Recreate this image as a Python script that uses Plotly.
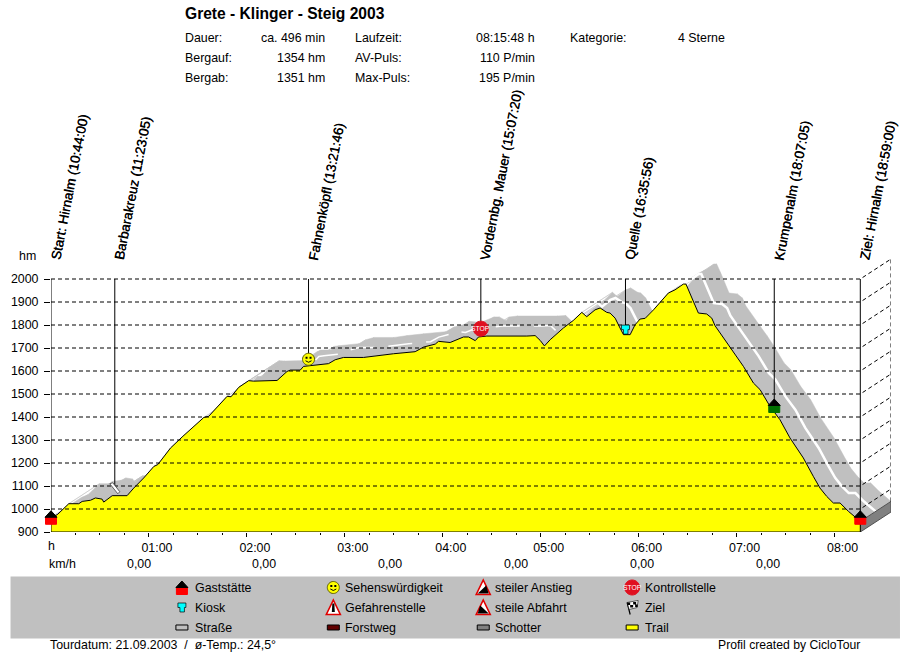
import numpy as np
import plotly.graph_objects as go

FONT = "Liberation Sans"

# elevation profile, minutes since start / hoehenmeter
prof_min = [0, 3.8, 10.9, 17, 19.1, 24.2, 27.2, 31.3, 32.3, 35.4, 37.5, 46.6, 50.7, 56.8, 63, 65.4, 73.2, 80.3, 84.4,
            93.6, 96.6, 101.7, 107.9, 110.3, 115, 121.1, 124.2, 138.5, 144.6, 146.6, 152.7, 154.7, 157.8, 170, 174.1,
            179.2, 191.5, 199.6, 209.8, 223.1, 228.2, 235.4, 237.4, 244.5, 252.7, 255.8, 259.9, 261.9, 267, 291.5,
            296.6, 299.7, 302.3, 305.8, 313.9, 320, 325.2, 328.2, 333.3, 336.4, 340.5, 342.5, 345.6, 348.6, 350.7,
            354.8, 357.8, 360.9, 364, 369.1, 378.2, 382.3, 387.4, 389, 391.5, 396.6, 401.7, 404.8, 406.8, 415, 420.1,
            424.2, 430.3, 434.4, 440.5, 446.6, 452.7, 460.9, 467, 471.1, 475.2, 479.3, 483.4, 488.5, 495.8]
prof_hm = [964, 975, 1023, 1023, 1033, 1038, 1048, 1043, 1030, 1048, 1058, 1058, 1091, 1135, 1185, 1193, 1265, 1313, 1338,
           1398, 1403, 1443, 1490, 1488, 1529, 1558, 1556, 1559, 1598, 1604, 1604, 1620, 1623, 1632, 1649,
           1659, 1659, 1667, 1675, 1684, 1704, 1717, 1729, 1724, 1748, 1748, 1732, 1748, 1752, 1752,
           1754, 1733, 1709, 1736, 1787, 1820, 1855, 1836, 1866, 1874, 1855, 1852, 1830, 1787, 1758,
           1758, 1801, 1826, 1829, 1866, 1939, 1953, 1978, 1978, 1939, 1852, 1848, 1830, 1797, 1714, 1664,
           1620, 1548, 1519, 1446, 1388, 1309, 1222, 1142, 1091, 1055, 1026, 1026, 990, 946]

# waypoints
way_names = ["Start: Hirnalm (10:44:00)", "Barbarakreuz (11:23:05)", "Fahnenköpfl (13:21:46)",
             "Vordernbg. Mauer (15:07:20)", "Quelle (16:35:56)", "Krumpenalm (18:07:05)", "Ziel: Hirnalm (18:59:00)"]
way_min = [0, 39.08, 157.77, 263.33, 351.93, 443.08, 495.8]
way_hm = [964, 1088, 1651, 1784, 1780, 1450, 964]
way_base = [900, 1088, 1651, 1784, 1780, 1450, 900]
way_icon = ["house_red", "cross", "smile", "stop", "cup", "house_green", "house_red"]

tick_min = [60, 120, 180, 240, 300, 360, 420, 480]
tick_text = ["01:00", "02:00", "03:00", "04:00", "05:00", "06:00", "07:00", "08:00"]
minor_min = [15, 30, 45, 75, 90, 105, 135, 150, 165, 195, 210, 225, 255, 270, 285,
             315, 330, 345, 375, 390, 405, 435, 450, 465]
hm_ticks = list(range(900, 2001, 100))
speed_min = [53.7, 130.7, 207.8, 284.9, 362.2, 439.2]
speed_text = ["0,00"] * 6

info_left = ["Dauer:", "Bergauf:", "Bergab:"]
info_left_val = ["ca. 496 min", "1354 hm", "1351 hm"]
info_mid = ["Laufzeit:", "AV-Puls:", "Max-Puls:"]
info_mid_val = ["08:15:48 h", "110 P/min", "195 P/min"]

legend_rows = [["Gaststätte", "Sehenswürdigkeit", "steiler Anstieg", "Kontrollstelle"],
               ["Kiosk", "Gefahrenstelle", "steile Abfahrt", "Ziel"],
               ["Straße", "Forstweg", "Schotter", "Trail"]]
legend_icons = [["house_red", "smile", "climb", "stop"],
                ["cup", "danger", "descent", "flag"],
                ["road", "forest", "gravel", "trail"]]

# 3d depth of the strip behind the profile
DEPTH_MIN, DEPTH_HM = 18.8, 87

# page geometry (pixels), plot area includes the depth part
W, H = 910, 652
L, B = 50.5, 532.5
PX_MIN, PX_HM = 98 / 60, 0.23
TEXT_SIZE = 12.4

t = np.array(prof_min)
hm = np.array(prof_hm)
end_t, end_hm = t[-1], hm[-1]
x_max = end_t + DEPTH_MIN
y_max = 2000 + DEPTH_HM
R = L + x_max * PX_MIN
T = B - (y_max - 900) * PX_HM


def px(x):
    return (x - L) / (R - L)


def py(y):
    return (B - y) / (B - T)


def text(s, x, y, anchor="left", size=TEXT_SIZE, color="black"):
    # annotations land about 1px inside their anchor
    x = x - 1 if anchor == "left" else x + 1 if anchor == "right" else x
    return dict(text=s, xref="paper", yref="paper", x=px(x), y=py(y + 0.5), xanchor=anchor, yanchor="middle",
                showarrow=False, borderpad=0, font=dict(family=FONT, size=size, color=color))


def shape(path, fill, line, a, width=1):
    return dict(type="path", path=path, fillcolor=fill, line=dict(color=line, width=width),
                xsizemode="pixel", ysizemode="pixel", **a)


def circle(r):
    k = r * 0.5523
    return (f"M{-r},0 C{-r},{k} {-k},{r} 0,{r} C{k},{r} {r},{k} {r},0 "
            f"C{r},{-k} {k},{-r} 0,{-r} C{-k},{-r} {-r},{-k} {-r},0 Z")


# all icons are pixel paths around an anchor, y goes up
def icon(kind, xref, x, yref, y):
    a = dict(xref=xref, yref=yref, xanchor=x, yanchor=y)
    if kind.startswith("house"):
        color = "#FF0000" if kind == "house_red" else "#007000"
        return [shape("M-5.5,0 H5.5 V-7 H-5.5 Z", color, color, a),
                shape("M-6,0 L0,6.5 L6,0 Z", "black", "black", a)]
    if kind == "cup":
        return [shape("M-4,4.5 H4 V0 H2.5 V-4.5 H-2 V0 H-4 Z", "#00FFFF", "black", a, 0.7)]
    if kind == "cross":
        return [shape("M-5,5 L-2,6 L5,-3 L3,-5 Z", "white", "#404040", a, 0.8)]
    if kind == "smile":
        return [shape(circle(6), "#FFFF00", "#606000", a),
                shape("M-3,2.5 H-1 V0.5 H-3 Z M1,2.5 H3 V0.5 H1 Z", "black", "black", a, 0),
                shape("M-3,-1.5 Q0,-4.5 3,-1.5", "rgba(0,0,0,0)", "black", a)]
    if kind == "stop":
        return [shape(circle(7.5), "#E01020", "#E01020", a)]
    if kind in ("climb", "descent", "danger"):
        out = [shape("M0,7.5 L7,-7 H-7 Z", "white", "#E00000", a, 1.6)]
        if kind == "danger":
            out.append(shape("M-1,4 H1 L1.5,-4.5 H-1.5 Z", "black", "black", a, 0))
        elif kind == "climb":
            out.append(shape("M-5.5,-6 L3,2 L5.5,-6 Z", "black", "black", a, 0))
        else:
            out.append(shape("M5.5,-6 L-3,2 L-5.5,-6 Z", "black", "black", a, 0))
        return out
    if kind == "flag":
        return [shape("M-5,5 L-2,-7", "rgba(0,0,0,0)", "black", a, 1.2),
                shape("M-5,5 L6,7 L5,0 L-3,-2 Z", "white", "black", a, 0.6),
                shape("M-5,5 H-2 V2.5 H-5 Z M1,5.5 H4 V3 H1 Z M-2,2.5 H1 V0 H-2 Z M3,3 H5.5 V0.5 H3 Z",
                      "black", "black", a, 0)]
    fills = dict(road="#C0C0C0", forest="#600000", gravel="#808080", trail="#FFFF00")
    return [shape("M-6,2.5 H6 V-2.5 H-6 Z", fills[kind], "black", a)]


fig = go.Figure()

# the grey strip: one quad for each profile segment, shifted backwards in depth
qx, qy = [], []
for i in range(len(t) - 1):
    qx += [t[i], t[i + 1], t[i + 1] + DEPTH_MIN, t[i] + DEPTH_MIN, t[i], None]
    qy += [hm[i], hm[i + 1], hm[i + 1] + DEPTH_HM, hm[i] + DEPTH_HM, hm[i], None]
fig.add_trace(go.Scatter(x=qx, y=qy, mode="lines", fill="toself", fillcolor="#C0C0C0",
                         line=dict(color="#C0C0C0", width=0.5), hoverinfo="skip"))

# white track in the middle of the strip, only broken bits on the flat part
flat = (t > 150) & (t < 300)
steep = t >= 325
fig.add_trace(go.Scatter(x=t[flat] + DEPTH_MIN / 2, y=hm[flat] + DEPTH_HM / 2, mode="lines",
                         line=dict(color="white", width=1.5, dash="24px,14px"), hoverinfo="skip"))
fig.add_trace(go.Scatter(x=t[steep] + DEPTH_MIN / 2, y=hm[steep] + DEPTH_HM / 2, mode="lines",
                         line=dict(color="white", width=2.5), hoverinfo="skip"))

# end wall of the strip
fig.add_trace(go.Scatter(x=[end_t, x_max, x_max, end_t, end_t],
                         y=[900, 900 + DEPTH_HM, end_hm + DEPTH_HM, end_hm, 900], mode="lines", fill="toself",
                         fillcolor="#808080", line=dict(color="#505050", width=1), cliponaxis=False, hoverinfo="skip"))

# yellow profile
fig.add_trace(go.Scatter(x=[0, *t, end_t], y=[900, *hm, 900], mode="lines", fill="toself", fillcolor="#FFFF00",
                         line=dict(width=0), hoverinfo="skip"))
fig.add_trace(go.Scatter(x=t, y=hm, mode="lines", line=dict(color="black", width=1), hoverinfo="skip"))

# grid lies over everything, front and depth part
gx, gy = [], []
for level in hm_ticks[1:]:
    gx += [0, end_t, x_max, None]
    gy += [level, level, level + DEPTH_HM, None]
gx += [x_max, x_max]
gy += [end_hm + DEPTH_HM, y_max]
fig.add_trace(go.Scatter(x=gx, y=gy, mode="lines", line=dict(color="black", width=1, dash="4px,3px"),
                         cliponaxis=False, hoverinfo="skip"))

# base line and waypoint stems
fig.add_trace(go.Scatter(x=[0, end_t], y=[900, 900], mode="lines", line=dict(color="black", width=1),
                         cliponaxis=False, hoverinfo="skip"))
for m, b in zip(way_min, way_base):
    fig.add_trace(go.Scatter(x=[m, m], y=[b, 2000], mode="lines", line=dict(color="black", width=1),
                             cliponaxis=False, hoverinfo="skip"))

shapes = []
annotations = []
for name, m, h, ic in zip(way_names, way_min, way_hm, way_icon):
    # x anchor in paper units, data refs would clip the first house
    shapes += icon(ic, "paper", m / x_max, "y", h)
    annotations.append(dict(text=name, xref="x", yref="paper", x=m, y=py(263), xanchor="left", yanchor="bottom",
                            xshift=-4, textangle=-79, showarrow=False, borderpad=0,
                            font=dict(family=FONT, size=13.5, color="black", shadow="0.4px 0 0 black")))
    if ic == "stop":
        annotations.append(dict(text="STOP", xref="x", yref="y", x=m, y=h, showarrow=False, borderpad=0,
                                font=dict(family=FONT, size=6.8, color="white")))

# header
annotations.append(text("<b>Grete - Klinger - Steig 2003</b>", 185, 13, size=15.6))
for i, y in enumerate([37.5, 57.5, 77.5]):
    annotations.append(text(info_left[i], 185, y))
    annotations.append(text(info_left_val[i], 325, y, "right"))
    annotations.append(text(info_mid[i], 355, y))
    annotations.append(text(info_mid_val[i], 535, y, "right"))
annotations.append(text("Kategorie:", 570, 37.5))
annotations.append(text("4 Sterne", 725, 37.5, "right"))

# axis captions
annotations.append(text("hm", 18, 256))
annotations.append(text("h", 51.5, 546, "center"))
annotations.append(text("km/h", 48, 564))
for m, s in zip(speed_min, speed_text):
    annotations.append(dict(text=s, xref="x", yref="paper", x=m, y=py(564.5), xanchor="center", yanchor="middle",
                            showarrow=False, borderpad=0, font=dict(family=FONT, size=TEXT_SIZE, color="black")))

# legend panel
shapes.append(dict(type="rect", xref="paper", yref="paper", x0=px(10), x1=px(900), y0=py(639), y1=py(577),
                   fillcolor="#C0C0C0", line=dict(width=0), layer="below"))
col_icon = [181.5, 333, 483, 632]
col_text = [195, 345, 495, 645]
row_y = [588, 608, 628]
for r, y in enumerate(row_y):
    for c in range(4):
        kind = legend_icons[r][c]
        shapes += icon(kind, "paper", px(col_icon[c]), "paper", py(y))
        annotations.append(text(legend_rows[r][c], col_text[c], y))
        if kind == "stop":
            annotations.append(text("STOP", col_icon[c], y - 0.5, "center", size=6.8, color="white"))

# footer
annotations.append(text("Tourdatum: 21.09.2003  /  ø-Temp.: 24,5°", 49, 645.5))
annotations.append(text("Profil created by CicloTour", 860, 645.5, "right", size=12.2))

fig.update_layout(
    width=W, height=H, showlegend=False, plot_bgcolor="white", paper_bgcolor="white",
    margin=dict(l=L, r=W - R, t=T, b=H - B, pad=0, autoexpand=False),
    font=dict(family=FONT, size=TEXT_SIZE, color="black"),
    shapes=shapes, annotations=annotations,
)
fig.update_xaxes(range=[0, x_max], tickmode="array", tickvals=tick_min, ticktext=tick_text, ticks="outside", ticklen=4,
                 tickcolor="black", tickwidth=1, ticklabelshift=8, ticklabelstandoff=0,
                 showline=False, showgrid=False, zeroline=False,
                 minor=dict(tickmode="array", tickvals=minor_min, ticks="outside", ticklen=2, tickcolor="black",
                            showgrid=False))
fig.update_yaxes(range=[900, y_max], tickmode="array", tickvals=hm_ticks, ticks="outside", ticklen=6, tickcolor="black",
                 tickwidth=1, ticklabelstandoff=3, showline=False, zeroline=False, showgrid=False)

fig.write_html("out.html", config={"displayModeBar": False},
               post_script="document.body.style.margin='0';document.body.style.overflow='hidden';")
